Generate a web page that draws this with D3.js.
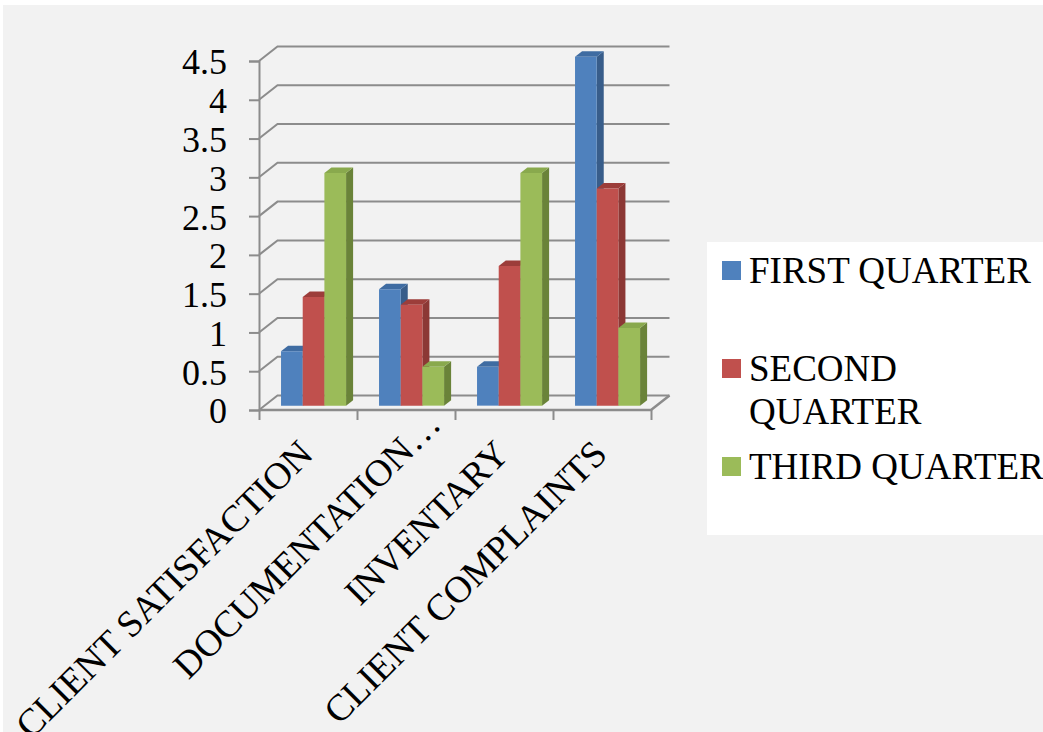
<!DOCTYPE html>
<html>
<head>
<meta charset="utf-8">
<script src="https://cdn.jsdelivr.net/npm/d3@7/dist/d3.min.js"></script>
<style>
  html, body { margin: 0; padding: 0; background: #ffffff; }
  svg { display: block; }
  text { font-family: "Liberation Serif", "Times New Roman", serif; fill: #000; }
</style>
</head>
<body>
<svg id="chart" width="1043" height="732"></svg>
<script>
// Quarterly scores per area
const categories = ["CLIENT SATISFACTION", "DOCUMENTATION\u2026", "INVENTARY", "CLIENT COMPLAINTS"];
const seriesNames = ["FIRST QUARTER", "SECOND QUARTER", "THIRD QUARTER"];
const firstQuarter = [0.7, 1.5, 0.5, 4.5];
const secondQuarter = [1.4, 1.3, 1.8, 2.8];
const thirdQuarter = [3.0, 0.5, 3.0, 1.0];
const yTicks = [0, 0.5, 1, 1.5, 2, 2.5, 3, 3.5, 4, 4.5];
const yTickLabels = ["0", "0.5", "1", "1.5", "2", "2.5", "3", "3.5", "4", "4.5"];

const seriesValues = [firstQuarter, secondQuarter, thirdQuarter];
const palette = [
  { front: "#4f81bd", side: "#385d8a", top: "#3f6ca2" },
  { front: "#c0504d", side: "#8c3835", top: "#9c3d3a" },
  { front: "#9bbb59", side: "#6a8339", top: "#89a94d" }
];

const svg = d3.select("#chart");
const W = 1043, H = 732;

// panel background
svg.append("rect").attr("x", 3).attr("y", 5).attr("width", W - 3).attr("height", H - 5).attr("fill", "#f2f2f2");

// plot frame (front plane) and depth projection
const plotLeft = 259, plotRight = 651, plotBase = 410, plotTop = 61;
const depth = [18.5, -14.5];          // offset of the back wall
const barFront = 0.3, barBack = 0.68; // bar depth as fractions of the wall depth
const proj = (px, py, d) => [px + depth[0] * d, py + depth[1] * d];

const y = d3.scaleLinear().domain([0, 4.5]).range([plotBase, plotTop]);
const x = d3.scaleBand().domain(categories).range([plotLeft, plotRight]).paddingInner(0).paddingOuter(0);
const xs = d3.scaleBand().domain(d3.range(seriesNames.length)).range([0, x.bandwidth()]).paddingInner(0).paddingOuter(0.76);
const xi = d3.scaleLinear().domain([0, categories.length]).range([plotLeft, plotRight]);

const gridColor = "#8c8c8c";
const grid = svg.append("g").attr("stroke", gridColor).attr("stroke-width", 2).attr("fill", "none");

// back wall gridlines and side wall diagonals
yTicks.forEach(v => {
  const a = proj(plotLeft, y(v), 0), b = proj(plotLeft, y(v), 1), c = proj(plotRight, y(v), 1);
  grid.append("path").attr("d", d3.line()([a, b, c]));
});
// floor outline
{
  const p0 = proj(plotLeft, y(0), 0), p1 = proj(plotRight, y(0), 0), p2 = proj(plotRight, y(0), 1);
  grid.append("path").attr("d", d3.line()([p0, p1, p2])).attr("stroke-width", 2.5);
}

// value axis
const yAxis = d3.axisLeft(y).tickValues(yTicks).tickSize(10).tickPadding(22)
  .tickFormat((d, i) => yTickLabels[i]);
const gy = svg.append("g").attr("transform", `translate(${plotLeft},0)`).call(yAxis);
gy.select(".domain").attr("stroke", gridColor).attr("stroke-width", 2);
gy.selectAll(".tick line").attr("stroke", gridColor).attr("stroke-width", 2);
gy.selectAll(".tick text").attr("font-size", 36).attr("dy", "0.36em")
  .style("font-family", '"Liberation Serif", "Times New Roman", serif').attr("fill", "#000");

// category axis ticks at the band edges
const xAxis = d3.axisBottom(xi).tickValues(d3.range(categories.length + 1)).tickSize(10).tickFormat("");
const gx = svg.append("g").attr("transform", `translate(0,${plotBase})`).call(xAxis);
gx.select(".domain").remove();
gx.selectAll(".tick line").attr("stroke", gridColor).attr("stroke-width", 2);

// 3D bars
const bars = svg.append("g");
categories.forEach((cat, ci) => {
  seriesValues.forEach((vals, si) => {
    const v = vals[ci];
    const x0 = x(cat) + xs(si), x1 = x0 + xs.bandwidth();
    const yb = y(0), yt = y(v);
    const c = palette[si];
    const fbl = proj(x0, yb, barFront), fbr = proj(x1, yb, barFront);
    const ftl = proj(x0, yt, barFront), ftr = proj(x1, yt, barFront);
    const bbr = proj(x1, yb, barBack), btr = proj(x1, yt, barBack), btl = proj(x0, yt, barBack);
    bars.append("path").attr("d", d3.line()([fbr, bbr, btr, ftr]) + "Z").attr("fill", c.side);
    bars.append("path").attr("d", d3.line()([ftl, ftr, btr, btl]) + "Z").attr("fill", c.top);
    bars.append("path").attr("d", d3.line()([ftl, ftr, fbr, fbl]) + "Z").attr("fill", c.front);
  });
});

// rotated category labels
const labels = svg.append("g");
categories.forEach(cat => {
  const cx = x(cat) + x.bandwidth() / 2 + 7;
  const cy = 456;
  // a truncated label lets its ellipsis hang past the tick
  const slide = cat.endsWith("\u2026") ? 42 : 0;
  const ax = cx + slide * Math.SQRT1_2, ay = cy - slide * Math.SQRT1_2;
  labels.append("text")
    .attr("transform", `translate(${ax},${ay}) rotate(-45)`)
    .attr("text-anchor", "end")
    .attr("font-size", 37.5)
    .text(cat);
});

// legend
const lg = svg.append("g");
lg.append("rect").attr("x", 707).attr("y", 242).attr("width", 340).attr("height", 293).attr("fill", "#ffffff");
const legendRows = [
  { lines: ["FIRST QUARTER"], cy: 270.5 },
  { lines: ["SECOND", "QUARTER"], cy: 368.5 },
  { lines: ["THIRD QUARTER"], cy: 466.5 }
];
legendRows.forEach((row, i) => {
  lg.append("rect").attr("x", 722).attr("y", row.cy - 9.5).attr("width", 19).attr("height", 19)
    .attr("fill", palette[i].front);
  const t = lg.append("text").attr("x", 749).attr("y", row.cy + 12.5).attr("font-size", 37);
  row.lines.forEach((ln, k) => {
    t.append("tspan").attr("x", 749).attr("dy", k === 0 ? 0 : 43).text(ln);
  });
});
</script>
</body>
</html>
